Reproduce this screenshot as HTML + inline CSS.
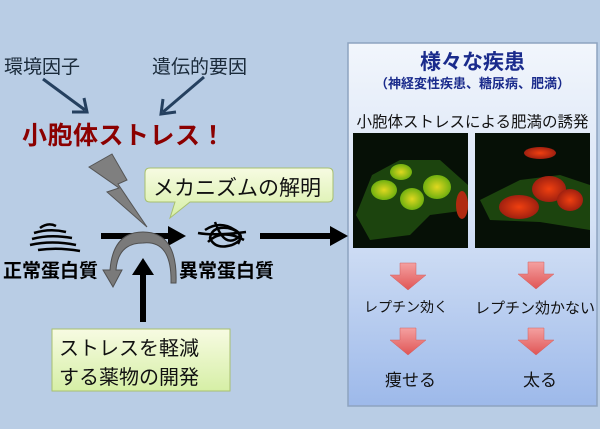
<!DOCTYPE html>
<html><head><meta charset="utf-8"><style>
body{margin:0;width:600px;height:429px;overflow:hidden;background:#b9cde5;font-family:"Liberation Sans","Noto Sans CJK JP",sans-serif;position:relative}
.t{position:absolute;white-space:nowrap;color:#111}
.b{font-weight:bold}
</style></head><body>
<svg width="600" height="429" style="position:absolute;left:0;top:0">
<defs>
<linearGradient id="pg" x1="0" y1="0" x2="0" y2="1"><stop offset="0" stop-color="#f2f6fc"/><stop offset="0.5" stop-color="#d4e1f5"/><stop offset="1" stop-color="#9db9ea"/></linearGradient>
<linearGradient id="ag" x1="0" y1="0" x2="0" y2="1"><stop offset="0" stop-color="#f4a0a0"/><stop offset="1" stop-color="#e05555"/></linearGradient>
<linearGradient id="yg" x1="0" y1="0" x2="0" y2="1"><stop offset="0" stop-color="#f7fbe2"/><stop offset="1" stop-color="#d6efa6"/></linearGradient>
<radialGradient id="gc" cx="0.5" cy="0.5" r="0.5"><stop offset="0" stop-color="#e0d820"/><stop offset="1" stop-color="#70b010"/></radialGradient>
<radialGradient id="rc" cx="0.5" cy="0.5" r="0.5"><stop offset="0" stop-color="#f04010"/><stop offset="1" stop-color="#a02010"/></radialGradient>
</defs>
<rect x="348" y="43" width="249" height="363" fill="url(#pg)" stroke="#8ea3c0" stroke-width="1.5"/>
<rect x="353" y="133" width="115" height="115" fill="#061006"/>
<path d="M356 215 L372 175 L400 160 L440 160 L468 185 L468 210 L430 215 L410 235 L370 240 Z" fill="#1f4a10" opacity="0.9"/>
<ellipse cx="384" cy="190" rx="13" ry="10" fill="url(#gc)"/>
<ellipse cx="401" cy="172" rx="11" ry="8" fill="url(#gc)"/>
<ellipse cx="412" cy="199" rx="12" ry="11" fill="url(#gc)"/>
<ellipse cx="437" cy="187" rx="14" ry="12" fill="url(#gc)"/>
<ellipse cx="462" cy="205" rx="6" ry="14" fill="#b02a10"/>
<rect x="475" y="133" width="115" height="115" fill="#061006"/>
<path d="M480 200 L520 180 L560 175 L590 185 L590 230 L540 222 L490 220 Z" fill="#1f4a10" opacity="0.9"/>
<ellipse cx="540" cy="153" rx="16" ry="6" fill="url(#rc)"/>
<ellipse cx="549" cy="189" rx="17" ry="13" fill="url(#rc)"/>
<ellipse cx="519" cy="207" rx="20" ry="12" fill="url(#rc)"/>
<ellipse cx="570" cy="200" rx="13" ry="11" fill="url(#rc)"/>
<g fill="url(#ag)" stroke="#d06060" stroke-width="0.5">
<path d="M400 263 h16 v12 h10 l-18 15 l-18 -15 h10 z"/>
<path d="M528 262 h16 v12 h10 l-18 15 l-18 -15 h10 z"/>
<path d="M400 328 h16 v12 h10 l-18 15 l-18 -15 h10 z"/>
<path d="M528 328 h16 v12 h10 l-18 15 l-18 -15 h10 z"/>
</g>
<g stroke="#25405f" stroke-width="3" fill="none">
<line x1="43" y1="79" x2="85" y2="110"/><path d="M72 112 L87 112 L84 98"/>
<line x1="204" y1="77" x2="163" y2="112"/><path d="M163 99 L161 114 L176 112"/>
</g>
<path d="M89 167 L112 154 L127 180 L118 184 L147 227 L107 192 L119 188 Z" fill="#7f7f7f" stroke="#555" stroke-width="1"/>
<path d="M150 168 Q145 168 145 173 V197 Q145 202 150 202 H175 L170 218 L190 202 H328 Q333 202 333 197 V173 Q333 168 328 168 Z" fill="url(#yg)" stroke="#a8c070" stroke-width="1"/>
<line x1="101" y1="236" x2="172" y2="236" stroke="#000" stroke-width="6"/>
<path d="M168 226 L186 236 L168 246 Z" fill="#000"/>
<line x1="260" y1="236" x2="335" y2="236" stroke="#000" stroke-width="6"/>
<path d="M330 226 L348 236 L330 246 Z" fill="#000"/>
<line x1="143" y1="322" x2="143" y2="270" stroke="#000" stroke-width="6"/>
<path d="M132 275 L143 258 L154 275 Z" fill="#000"/>
<path d="M171 283 Q172 240 143 243 Q118 243 116 270 L122 270 L113 287 L103 270 L110 270 Q113 232 143 232 Q178 232 176 283 Z" fill="#7a7a7a" stroke="#505050" stroke-width="1"/>
<g stroke="#000" stroke-width="2.5" fill="none">
<path d="M40 228 Q48 222 56 226 M34 233 Q50 228 66 232 M32 239 Q50 234 72 238 M30 245 Q52 240 76 245 M38 250 Q58 247 80 251"/>
<path d="M205 230 Q220 220 235 230 Q248 238 232 245 Q215 250 210 238 Q212 226 228 228 Q245 232 238 244 M198 233 Q215 236 246 232 M215 222 Q225 250 240 236 M208 242 Q222 228 244 240"/>
</g>
<rect x="52" y="329" width="178" height="62" fill="url(#yg)" stroke="#a8c070" stroke-width="1"/>
</svg>
<div class="t" style="left:4px;top:52px;font-size:19px;color:#1a2a3a">環境因子</div>
<div class="t" style="left:152px;top:52px;font-size:19px;color:#1a2a3a">遺伝的要因</div>
<div class="t b" style="left:22px;top:116px;font-size:25px;color:#8b0000;letter-spacing:0.5px">小胞体ストレス！</div>
<div class="t" style="left:153px;top:172px;font-size:21px">メカニズムの解明</div>
<div class="t b" style="left:3px;top:256px;font-size:19px;color:#000">正常蛋白質</div>
<div class="t b" style="left:179px;top:256px;font-size:19px;color:#000">異常蛋白質</div>
<div class="t" style="left:59px;top:335px;font-size:20px;line-height:29px">ストレスを軽減<br>する薬物の開発</div>
<div class="t b" style="left:348px;width:249px;text-align:center;top:46px;font-size:21px;color:#1a2b8c">様々な疾患</div>
<div class="t b" style="left:348px;width:249px;text-align:center;top:73px;font-size:13px;color:#1a2b8c">（神経変性疾患、糖尿病、肥満）</div>
<div class="t" style="left:348px;width:249px;text-align:center;top:110px;font-size:15.5px">小胞体ストレスによる肥満の誘発</div>
<div class="t" style="left:364px;top:297px;font-size:14px">レプチン効く</div>
<div class="t" style="left:475px;top:297px;font-size:15px">レプチン効かない</div>
<div class="t" style="left:385px;top:366px;font-size:17px">痩せる</div>
<div class="t" style="left:523px;top:366px;font-size:17px">太る</div>
</body></html>
